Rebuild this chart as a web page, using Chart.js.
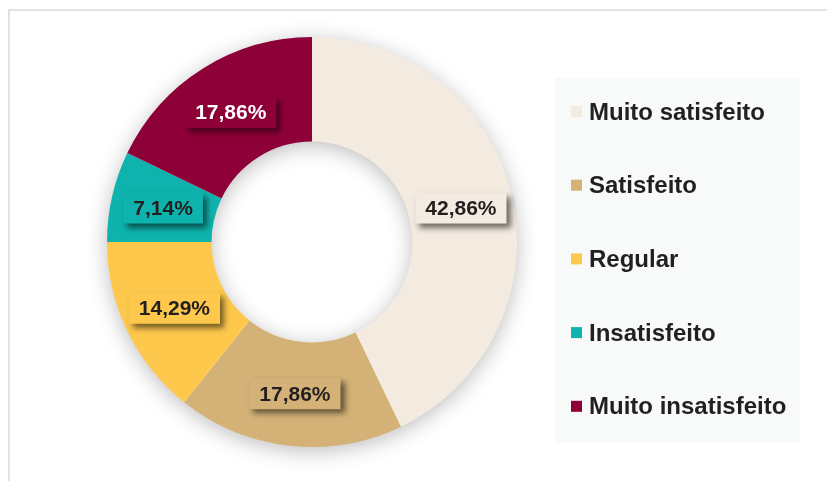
<!DOCTYPE html>
<html>
<head>
<meta charset="utf-8">
<script src="https://cdn.jsdelivr.net/npm/chart.js@4.4.1/dist/chart.umd.min.js"></script>
<style>
    html, body { margin: 0; padding: 0; background: #fff; }
    #wrap { position: relative; width: 827px; height: 481px; overflow: hidden; }
    #frame {
        position: absolute; left: 8px; top: 9px; width: 900px; height: 600px;
        border-top: 2px solid #e2e2e2; border-left: 2px solid #e2e2e2;
    }
    canvas { position: absolute; left: 0; top: 0; }
</style>
</head>
<body>
<div id="wrap">
    <div id="frame"></div>
    <canvas id="chart" width="827" height="481"></canvas>
</div>
<script>
// dados
const categorias = ['Muito satisfeito', 'Satisfeito', 'Regular', 'Insatisfeito', 'Muito insatisfeito'];
const percentuais = [42.86, 17.86, 14.29, 7.14, 17.86];
const cores = ['#f3ebe0', '#d4b277', '#fec84d', '#0fb3ad', '#8e0038'];
const coresTexto = ['#231f20', '#231f20', '#231f20', '#231f20', '#ffffff'];

const FONT = '"Liberation Sans", Arial, sans-serif';

// caixa cinza atrás da legenda + sombra do anel
const fundoPlugin = {
    id: 'fundo',
    beforeDraw(chart) {
        const ctx = chart.ctx;
        ctx.save();
        ctx.fillStyle = '#f8f9f9';
        ctx.fillRect(555, 78, 245, 365);
        ctx.restore();
    },
    beforeDatasetsDraw(chart) {
        const arc = chart.getDatasetMeta(0).data[0];
        if (!arc) return;
        const { x, y, outerRadius, innerRadius } = arc.getProps(['x', 'y', 'outerRadius', 'innerRadius'], true);
        const ctx = chart.ctx;
        ctx.save();
        ctx.shadowColor = 'rgba(0,0,0,0.28)';
        ctx.shadowBlur = 22;
        ctx.shadowOffsetX = 0;
        ctx.shadowOffsetY = 4;
        ctx.fillStyle = '#ffffff';
        ctx.beginPath();
        ctx.arc(x, y, outerRadius - 1, 0, Math.PI * 2);
        ctx.arc(x, y, innerRadius + 1, 0, Math.PI * 2, true);
        ctx.fill();
        ctx.restore();
    }
};

// rótulos com caixa e sombra
const rotulosPlugin = {
    id: 'rotulos',
    afterDatasetsDraw(chart) {
        const ctx = chart.ctx;
        const meta = chart.getDatasetMeta(0);
        ctx.save();
        ctx.font = 'bold 21px ' + FONT;
        ctx.textAlign = 'center';
        ctx.textBaseline = 'middle';
        meta.data.forEach((arc, i) => {
            const pos = arc.tooltipPosition(true);
            const txt = percentuais[i].toFixed(2).replace('.', ',') + '%';
            const w = ctx.measureText(txt).width + 20;
            const h = 31;
            ctx.save();
            ctx.shadowColor = 'rgba(0,0,0,0.55)';
            ctx.shadowBlur = 6;
            ctx.shadowOffsetX = 4;
            ctx.shadowOffsetY = 4;
            ctx.fillStyle = cores[i];
            ctx.fillRect(pos.x - w / 2, pos.y - h / 2, w, h);
            ctx.restore();
            ctx.fillStyle = coresTexto[i];
            ctx.fillText(txt, pos.x, pos.y + 1);
        });
        ctx.restore();
    }
};

// legenda desenhada na caixa cinza
const legendaPlugin = {
    id: 'legenda',
    afterDraw(chart) {
        const ctx = chart.ctx;
        const items = chart.legend.legendItems || [];
        ctx.save();
        ctx.font = 'bold 24px ' + FONT;
        ctx.textAlign = 'left';
        ctx.textBaseline = 'middle';
        items.forEach((item, i) => {
            const y = 112 + i * 73.7;
            ctx.fillStyle = item.fillStyle;
            ctx.fillRect(571, y - 6, 11, 11);
            ctx.fillStyle = '#231f20';
            ctx.fillText(item.text, 589, y + 1);
        });
        ctx.restore();
    }
};

new Chart(document.getElementById('chart'), {
    type: 'doughnut',
    data: {
        labels: categorias,
        datasets: [{
            data: percentuais,
            backgroundColor: cores,
            borderWidth: 0
        }]
    },
    options: {
        responsive: false,
        animation: false,
        events: [],
        cutout: '49%',
        layout: { padding: { left: 107, right: 310, top: 37, bottom: 34 } },
        plugins: {
            tooltip: { enabled: false },
            legend: { display: false }
        }
    },
    plugins: [fundoPlugin, rotulosPlugin, legendaPlugin]
});
</script>
</body>
</html>
